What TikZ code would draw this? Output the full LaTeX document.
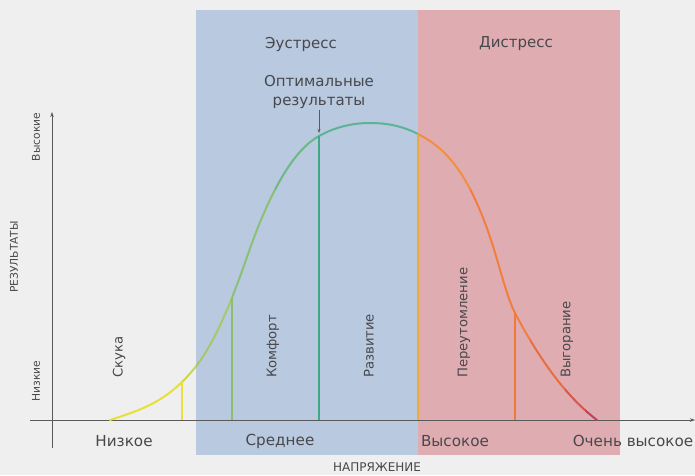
\documentclass[tikz,border=0pt]{standalone}
\usepackage{fontspec}
\setmainfont{DejaVu Sans}
\usetikzlibrary{arrows.meta}
\definecolor{bg}{HTML}{EFEFEF}
\definecolor{zblue}{HTML}{B9C9DF}
\definecolor{zred}{HTML}{DFADB1}
\definecolor{txt}{HTML}{48484C}
\definecolor{axc}{HTML}{5A5A5A}
\definecolor{cY}{HTML}{E6DF3C}
\definecolor{cYG}{HTML}{CCD84E}
\definecolor{cLG}{HTML}{A6C86C}
\definecolor{cG}{HTML}{8CC078}
\definecolor{cGT}{HTML}{6DB984}
\definecolor{cT}{HTML}{5BB595}
\definecolor{cO1}{HTML}{EE9040}
\definecolor{cO2}{HTML}{F07E3E}
\definecolor{cO3}{HTML}{EA6C42}
\definecolor{cR1}{HTML}{D6584C}
\definecolor{cR2}{HTML}{C04258}
\definecolor{vY}{HTML}{E8E040}
\definecolor{vG}{HTML}{8CBF6A}
\definecolor{vT}{HTML}{3FA888}
\definecolor{vO}{HTML}{F0A83A}
\definecolor{vR}{HTML}{F07838}
\begin{document}
\begin{tikzpicture}[x=1pt,y=-1pt,
  axis/.style={draw=axc,line width=0.7pt},
  tip/.style={-{Stealth[length=5pt,width=3.5pt]}},
  curvestyle/.style={line width=2pt,line cap=round,line join=round},
  vline/.style={line width=2pt},
  zone/.style={text=txt,font=\fontsize{15}{19}\selectfont},
  xlab/.style={text=txt,font=\fontsize{15.2}{17}\selectfont},
  vlab/.style={text=txt,font=\fontsize{13.2}{15}\selectfont,rotate=90,anchor=west,inner sep=0pt},
  small/.style={text=txt,font=\fontsize{10.7}{12}\selectfont,rotate=90,inner sep=0pt}
]
\fill[bg] (0,0) rectangle (695,475);
\useasboundingbox (0,0) rectangle (695,475);
\fill[zblue] (196,10) rectangle (418,455);
\fill[zred] (418,10) rectangle (620,455);

% axes
\coordinate (yb) at (52,448);
\coordinate (yt) at (52,112);
\coordinate (xl) at (30,420);
\coordinate (xr) at (695,420);
\draw[axis,tip] (yb) -- (yt);
\draw[axis,tip] (xl) -- (xr);

% curve
\def\curve{(110,420) .. controls (139,410.4) and (168,402.7) .. (197,365) .. controls (213.7,343.3) and (230.3,305.4) .. (247,257) .. controls (271,187.4) and (295,149.2) .. (319,136) .. controls (336,126.65) and (353,123) .. (370,123) .. controls (386,123) and (402,125.7) .. (418,134) .. controls (442.3,146.6) and (466.7,167) .. (491,240) .. controls (499,264) and (507,297.8) .. (515,313) .. controls (542.3,365) and (569.7,399.5) .. (597,420)}
\foreach \a/\b/\c in {100/182/cY,182/196/cYG,196/232/cLG,232/275/cG,275/315/cGT,315/418/cT,418/470/cO1,470/530/cO2,530/565/cO3,565/585/cR1,585/610/cR2}{
  \begin{scope}
    \clip (\a,0) rectangle (\b,475);
    \draw[curvestyle,\c] \curve;
  \end{scope}
}

% vertical lines
\coordinate (p1) at (182,381.8); \coordinate (b1) at (182,420);
\coordinate (p2) at (232,297.6); \coordinate (b2) at (232,420);
\coordinate (p3) at (319,136); \coordinate (b3) at (319,420);
\coordinate (p4) at (418,134); \coordinate (b4) at (418,420);
\coordinate (p5) at (515,313); \coordinate (b5) at (515,420);
\draw[vline,vY] (p1) -- (b1);
\draw[vline,vG] (p2) -- (b2);
\draw[vline,vT] (p3) -- (b3);
\draw[vline,vO] (p4) -- (b4);
\draw[vline,vR] (p5) -- (b5);

% zone titles
\node[zone] (eu) at (301,44) {Эустресс};
\node[zone] (di) at (516,44) {Дистресс};
\node[zone,align=center,inner sep=1pt] (opt) at (319,92) {Оптимальные\\результаты};
\coordinate (optpt) at (319,133);
\coordinate (optsrc) at (319,110);
\draw[axis,line width=0.6pt,-{Stealth[length=4pt,width=3pt]}] (optsrc) -- (optpt);

% rotated region labels
\node[vlab] (l1) at (119,378) {Скука};
\node[vlab] (l2) at (273,378) {Комфорт};
\node[vlab] (l3) at (369,378) {Развитие};
\node[vlab] (l4) at (464,378) {Переутомление};
\node[vlab] (l5) at (567,378) {Выгорание};

% x labels
\node[xlab] (x1) at (124,441) {Низкое};
\node[xlab] (x2) at (280,441) {Среднее};
\node[xlab] (x3) at (455,441) {Высокое};
\node[xlab] (x4) at (633,441) {Очень высокое};
\node[text=txt,font=\fontsize{12}{14}\selectfont] (xt) at (377,467) {НАПРЯЖЕНИЕ};

% y labels
\node[small] (y1) at (36,137) {Высокие};
\node[small] (y2) at (36,381) {Низкие};
\node[small] (yt2) at (14,257) {РЕЗУЛЬТАТЫ};
\end{tikzpicture}
\end{document}
